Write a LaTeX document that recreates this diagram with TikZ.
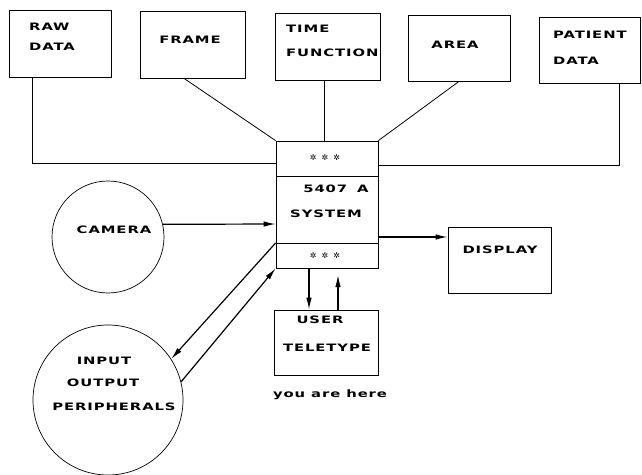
\documentclass[tikz,border=0pt]{standalone}
\usepackage{fontspec}
\usetikzlibrary{arrows.meta}
\newfontfamily\lab{DejaVu Sans Bold}[FakeStretch=1.45,LetterSpace=9]
\newfontfamily\symf{DejaVu Sans}
\begin{document}
\begin{tikzpicture}[x=1pt,y=-1pt,
  box/.style={draw,line width=0.8pt,rectangle,inner sep=0pt},
  circ/.style={draw,line width=0.7pt,circle,inner sep=0pt},
  txt/.style={inner sep=0pt,font=\lab\fontsize{10.2}{12}\selectfont},
  stars/.style={inner sep=0pt,font=\symf\fontsize{8}{9}\selectfont},
  ln/.style={line width=0.8pt},
  arr/.style={line width=1.2pt,-{Latex[length=12pt,width=5.5pt]}}]
\useasboundingbox (0,0) rectangle (642,474);
% boxes
\node[box,minimum width=102pt,minimum height=67pt] (rawdata) at (60,43.5) {};
\node[box,minimum width=105pt,minimum height=67pt] (frame) at (192.5,44.5) {};
\node[box,minimum width=105pt,minimum height=67pt] (timefn) at (327.5,46.5) {};
\node[box,minimum width=102pt,minimum height=66pt] (area) at (459,48) {};
\node[box,minimum width=101pt,minimum height=66pt] (patient) at (589.5,50) {};
\node[box,minimum width=102pt,minimum height=127pt] (system) at (327,204.5) {};
\node[box,minimum width=103pt,minimum height=66pt] (display) at (499.5,260) {};
\node[box,minimum width=104pt,minimum height=65pt] (teletype) at (326,342.5) {};
\node[circ,minimum size=112pt] (camera) at (108,237) {};
\node[circ,minimum size=150pt] (io) at (108,400) {};
% dividers of system box
\draw[ln] (system.west |- 0,176) -- (system.east |- 0,176);
\draw[ln] (system.west |- 0,243) -- (system.east |- 0,243);
% texts
\node[txt,anchor=west] (t-raw) at (29,27) {RAW};
\node[txt,anchor=west] (t-data1) at (29,47) {DATA};
\node[txt] (t-frame) at (190,40) {FRAME};
\node[txt,anchor=west] (t-time) at (286,29) {TIME};
\node[txt,anchor=west] (t-func) at (286,53) {FUNCTION};
\node[txt] (t-area) at (455,45) {AREA};
\node[txt,anchor=west] (t-pat) at (553,35) {PATIENT};
\node[txt,anchor=west] (t-data2) at (553,61) {DATA};
\node[stars] (s1) at (325,158) {✲\hspace{5pt}✲\hspace{5pt}✲};
\node[txt] (t-5407) at (336,189) {5407\hspace{10pt}A};
\node[txt] (t-sys) at (326,214) {SYSTEM};
\node[stars] (s2) at (325,256) {✲\hspace{5pt}✲\hspace{5pt}✲};
\node[txt] (t-cam) at (114,230) {CAMERA};
\node[txt] (t-disp) at (500,250) {DISPLAY};
\node[txt] (t-user) at (320,320) {USER};
\node[txt] (t-tele) at (327,348) {TELETYPE};
\node[txt] (t-here) at (330,395) {you\hspace{6pt}are\hspace{6pt}here};
\node[txt] (t-in) at (104,361) {INPUT};
\node[txt] (t-out) at (103,383) {OUTPUT};
\node[txt] (t-per) at (114,407) {PERIPHERALS};
% connectors
\draw[ln] (rawdata.south -| 32,0) |- (system.west |- 0,163);
\draw[ln] (frame.south -| 184,0) -- (system.north west);
\draw[ln] (timefn.south -| 324,0) -- (system.north -| 324,0);
\draw[ln] (area.south) -- (system.north east);
\draw[ln] (patient.south -| 619,0) |- (system.east |- 0,165);
\draw[arr] (camera.13) -- (system.west |- 0,224);
\draw[arr] (system.east |- 0,237) -- (display.west |- 0,237);
\draw[arr] (system.west |- 0,243) -- (io.33);
\draw[arr] (io.14) -- (system.south west);
\draw[arr] (system.south -| 309,0) -- (teletype.north -| 309,0);
\coordinate (uptip) at (338,275);
\draw[arr] (teletype.north -| 338,0) -- (uptip);
\end{tikzpicture}
\end{document}
